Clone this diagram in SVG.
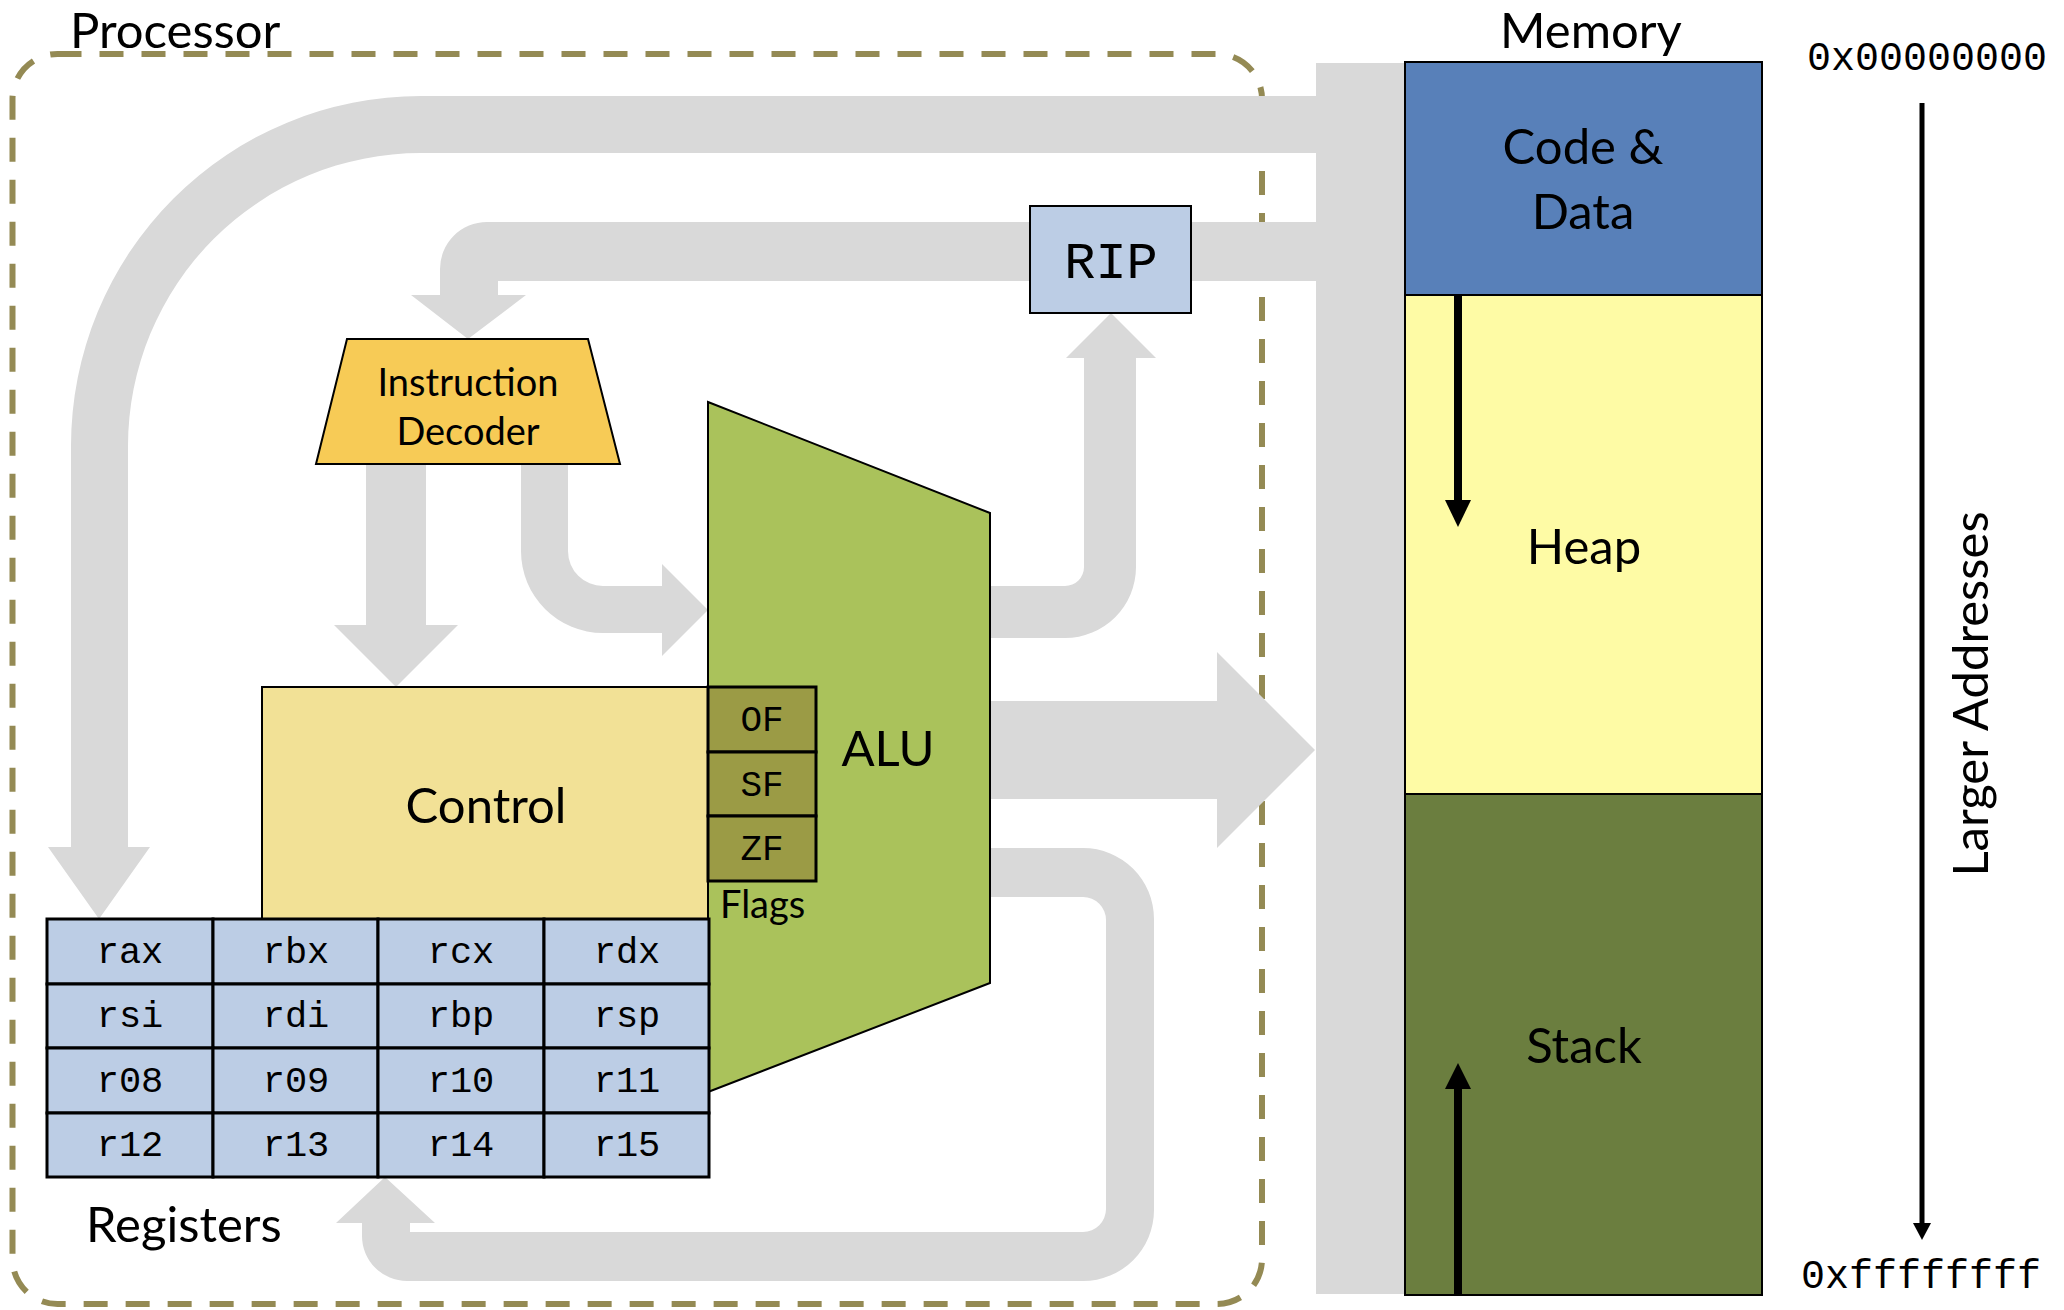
<svg xmlns="http://www.w3.org/2000/svg" width="2064" height="1310" viewBox="0 0 2064 1310">
<style>
.lbl{font-family:Lato,"Open Sans","Liberation Sans",sans-serif;font-size:49px;fill:#000}
.sm{font-family:Lato,"Open Sans","Liberation Sans",sans-serif;font-size:38px;fill:#000}
.mono{font-family:"Liberation Mono","DejaVu Sans Mono",monospace;fill:#000}
.bus{fill:#d9d9d9}
.box{stroke:#000;stroke-width:2}
.reg{fill:#bccde5;stroke:#000;stroke-width:3}
.flag{fill:#9b9b45;stroke:#000;stroke-width:3}
</style>
<rect width="2064" height="1310" fill="#fff"/>
<g id="processor">
<rect x="12.5" y="54" width="1249.5" height="1250" rx="45" fill="none" stroke="#948a54" stroke-width="6" stroke-dasharray="24 18"/>
<text class="lbl" x="70" y="48" font-size="48">Processor</text>
</g>
<g id="connectors" class="bus">
<rect x="1316" y="63" width="89" height="1231"/>
<path d="M1316,96 H421 A350,350 0 0 0 71,446 V847 H48 L99,919 L150,847 H128 V446 A293,293 0 0 1 421,153 H1316 Z"/>
<path d="M1316,222 H487 A47,47 0 0 0 440,269 V295 H411 L468,339 L526,295 H498 V281 H1316 Z"/>
<path d="M990,586 H1065 A19,19 0 0 0 1084,567 V358 H1066 L1111,313 L1156,358 H1136 V567 A71,71 0 0 1 1065,638 H990 Z"/>
<path d="M366,464 H426 V625 H458 L396,687 L334,625 H366 Z"/>
<path d="M521,464 H568 V551 A35,35 0 0 0 603,586 H662 V564 L708,610 L662,656 V633 H603 A82,82 0 0 1 521,551 Z"/>
<path d="M990,701 H1217 V652 L1315,750 L1217,848 V799 H990 Z"/>
<path d="M990,848 H1083 A71,71 0 0 1 1154,919 V1210 A71,71 0 0 1 1083,1281 H407 A45,45 0 0 1 362,1236 V1223 H336 L385,1177 L435,1223 H410 V1232 H1083 A23,23 0 0 0 1106,1209 V920 A23,23 0 0 0 1083,897 H990 Z"/>
</g>
<g id="rip">
<rect class="box" x="1030" y="206" width="161" height="107" fill="#bccde5"/>
<text class="mono" x="1111" y="278" font-size="52" text-anchor="middle">RIP</text>
</g>
<g id="decoder">
<polygon class="box" points="347,339 588,339 620,464 316,464" fill="#f7cb56"/>
<text class="sm" x="468" y="396" text-anchor="middle">Instruction</text>
<text class="sm" x="468" y="445" text-anchor="middle">Decoder</text>
</g>
<g id="control">
<rect class="box" x="262" y="687" width="446" height="232" fill="#f2e196"/>
<text class="lbl" x="486" y="823" text-anchor="middle">Control</text>
</g>
<g id="alu">
<polygon class="box" points="708,402 990,513 990,983 708,1092" fill="#aac25b"/>
<text class="lbl" x="888" y="766" text-anchor="middle">ALU</text>
</g>
<g id="flags">
<rect class="flag" x="708" y="687" width="108" height="65"/>
<rect class="flag" x="708" y="752" width="108" height="64"/>
<rect class="flag" x="708" y="816" width="108" height="65"/>
<g class="mono" font-size="36" text-anchor="middle">
<text x="762" y="731">OF</text>
<text x="762" y="796">SF</text>
<text x="762" y="860">ZF</text>
</g>
<text class="sm" x="720" y="918">Flags</text>
</g>
<g id="registers">
<rect class="reg" x="47" y="919" width="166" height="65"/>
<rect class="reg" x="213" y="919" width="165" height="65"/>
<rect class="reg" x="378" y="919" width="166" height="65"/>
<rect class="reg" x="544" y="919" width="165" height="65"/>
<rect class="reg" x="47" y="984" width="166" height="64"/>
<rect class="reg" x="213" y="984" width="165" height="64"/>
<rect class="reg" x="378" y="984" width="166" height="64"/>
<rect class="reg" x="544" y="984" width="165" height="64"/>
<rect class="reg" x="47" y="1048" width="166" height="65"/>
<rect class="reg" x="213" y="1048" width="165" height="65"/>
<rect class="reg" x="378" y="1048" width="166" height="65"/>
<rect class="reg" x="544" y="1048" width="165" height="65"/>
<rect class="reg" x="47" y="1113" width="166" height="64"/>
<rect class="reg" x="213" y="1113" width="165" height="64"/>
<rect class="reg" x="378" y="1113" width="166" height="64"/>
<rect class="reg" x="544" y="1113" width="165" height="64"/>
<g class="mono" font-size="37" text-anchor="middle">
<text x="130" y="963">rax</text><text x="296" y="963">rbx</text><text x="461" y="963">rcx</text><text x="627" y="963">rdx</text>
<text x="130" y="1027">rsi</text><text x="296" y="1027">rdi</text><text x="461" y="1027">rbp</text><text x="627" y="1027">rsp</text>
<text x="130" y="1092">r08</text><text x="296" y="1092">r09</text><text x="461" y="1092">r10</text><text x="627" y="1092">r11</text>
<text x="130" y="1156">r12</text><text x="296" y="1156">r13</text><text x="461" y="1156">r14</text><text x="627" y="1156">r15</text>
</g>
<text class="lbl" x="86" y="1242">Registers</text>
</g>
<g id="memory">
<text class="lbl" x="1591" y="48" font-size="48" text-anchor="middle">Memory</text>
<rect class="box" x="1405" y="62" width="357" height="233" fill="#5880b9"/>
<rect class="box" x="1405" y="295" width="357" height="499" fill="#fefba5"/>
<rect class="box" x="1405" y="794" width="357" height="501" fill="#6b7e3f"/>
<text class="lbl" x="1583" y="164" text-anchor="middle">Code &amp;</text>
<text class="lbl" x="1583" y="229" text-anchor="middle">Data</text>
<text class="lbl" x="1584" y="564" text-anchor="middle">Heap</text>
<text class="lbl" x="1584" y="1063" text-anchor="middle">Stack</text>
<line x1="1458" y1="296" x2="1458" y2="505" stroke="#000" stroke-width="8"/>
<polygon points="1445,500 1471,500 1458,527"/>
<line x1="1458" y1="1294" x2="1458" y2="1085" stroke="#000" stroke-width="8"/>
<polygon points="1445,1089 1471,1089 1458,1063"/>
</g>
<g id="addresses">
<text class="mono" x="1807" y="70" font-size="40">0x00000000</text>
<text class="mono" x="1801" y="1288" font-size="40">0xffffffff</text>
<line x1="1922" y1="103" x2="1922" y2="1226" stroke="#000" stroke-width="5"/>
<polygon points="1913,1223 1931,1223 1922,1240"/>
<text class="lbl" transform="translate(1988,694) rotate(-90)" x="0" y="0" text-anchor="middle">Larger Addresses</text>
</g>
</svg>
